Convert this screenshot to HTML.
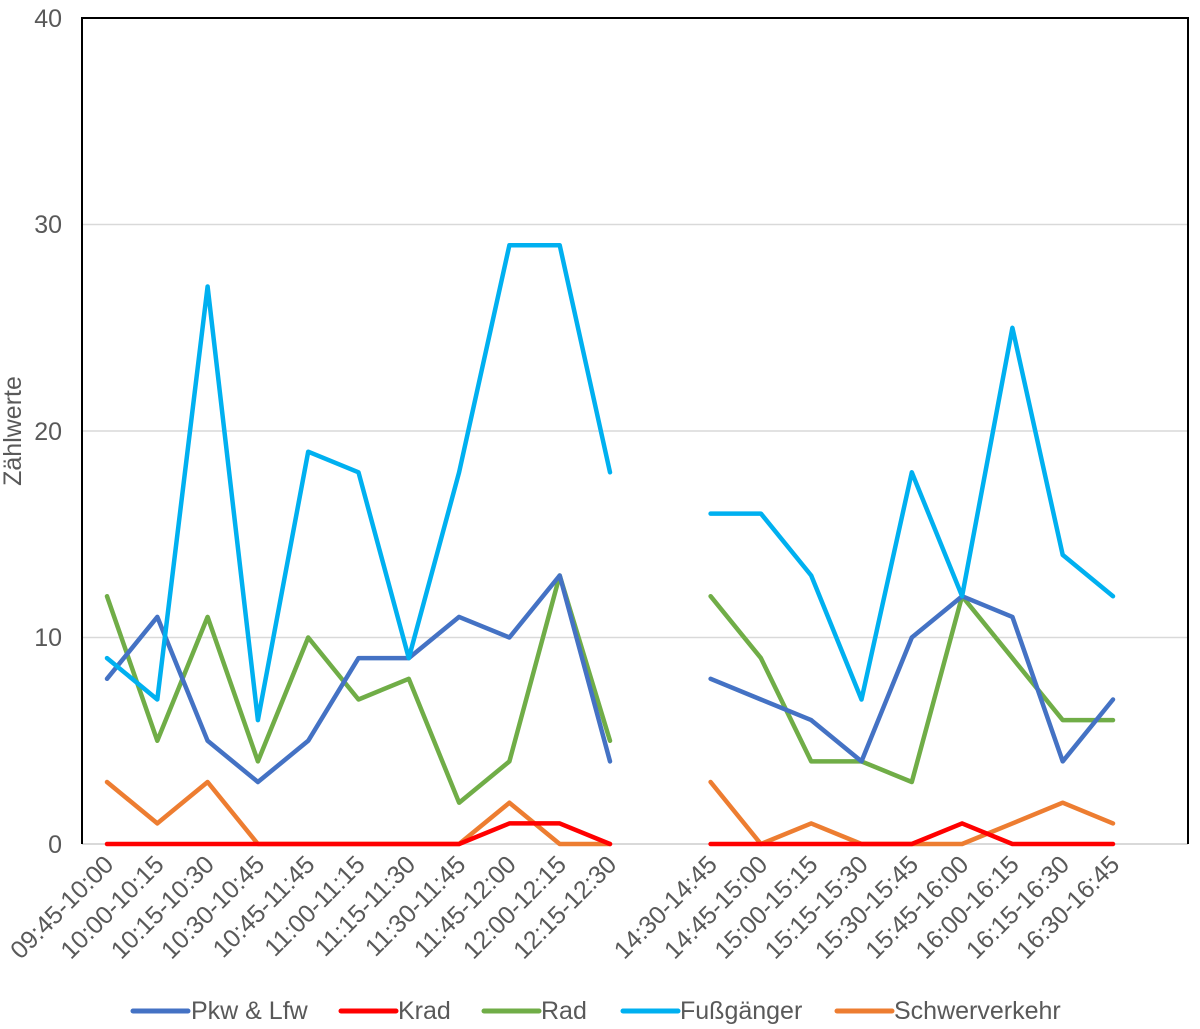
<!DOCTYPE html>
<html><head><meta charset="utf-8"><style>
html,body{margin:0;padding:0;background:#fff;}
svg{display:block;font-family:"Liberation Sans",sans-serif;}
</style></head><body>
<svg id="s" width="1200" height="1029" xmlns="http://www.w3.org/2000/svg">
<rect width="1200" height="1029" fill="#fff"/>
<g stroke="#d9d9d9" stroke-width="1.5">
<line x1="82" x2="1188" y1="637.5" y2="637.5"/>
<line x1="82" x2="1188" y1="431" y2="431"/>
<line x1="82" x2="1188" y1="224.5" y2="224.5"/>
</g>
<line x1="82" x2="1188" y1="844" y2="844" stroke="#d9d9d9" stroke-width="2"/>
<polyline points="82,844 82,18 1188,18 1188,844" fill="none" stroke="#000" stroke-width="2"/>
<g fill="#595959" font-size="25" text-anchor="end">
<text x="62" y="853">0</text>
<text x="62" y="646">10</text>
<text x="62" y="440">20</text>
<text x="62" y="233">30</text>
<text x="62" y="27">40</text>
</g>
<text transform="translate(21,431) rotate(-90)" text-anchor="middle" fill="#595959" font-size="25">Zählwerte</text>
<g id="lines" fill="none" stroke-width="4.5" stroke-linejoin="round" stroke-linecap="round"></g>
<g id="labels" fill="#595959" font-size="25" text-anchor="end"></g>
<g font-size="25" fill="#595959">
<line x1="133" x2="188" y1="1011" y2="1011" stroke="#4472c4" stroke-width="5" stroke-linecap="round"/><text x="191" y="1019">Pkw &amp; Lfw</text>
<line x1="341" x2="396" y1="1011" y2="1011" stroke="#ff0000" stroke-width="5" stroke-linecap="round"/><text x="398" y="1019">Krad</text>
<line x1="484" x2="539" y1="1011" y2="1011" stroke="#70ad47" stroke-width="5" stroke-linecap="round"/><text x="541" y="1019">Rad</text>
<line x1="623" x2="678" y1="1011" y2="1011" stroke="#00b0f0" stroke-width="5" stroke-linecap="round"/><text x="680" y="1019">Fußgänger</text>
<line x1="837" x2="892" y1="1011" y2="1011" stroke="#ed7d31" stroke-width="5" stroke-linecap="round"/><text x="894" y="1019">Schwerverkehr</text>
</g>
</svg>
<script>
var NS="http://www.w3.org/2000/svg";
function X(k){return 107+50.3*k;}
function Y(v){return 844-20.65*v;}
var series=[
["#ed7d31",[3,1,3,0,0,0,0,0,2,0,0],[3,0,1,0,0,0,1,2,1]],
["#ff0000",[0,0,0,0,0,0,0,0,1,1,0],[0,0,0,0,0,1,0,0,0]],
["#70ad47",[12,5,11,4,10,7,8,2,4,13,5],[12,9,4,4,3,12,9,6,6]],
["#4472c4",[8,11,5,3,5,9,9,11,10,13,4],[8,7,6,4,10,12,11,4,7]],
["#00b0f0",[9,7,27,6,19,18,9,18,29,29,18],[16,16,13,7,18,12,25,14,12]]
];
var g=document.getElementById("lines");
series.forEach(function(s){
 [[s[1],0],[s[2],12]].forEach(function(p){
  var pts=p[0].map(function(v,i){return X(i+p[1]).toFixed(1)+","+Y(v).toFixed(1);}).join(" ");
  var pl=document.createElementNS(NS,"polyline");
  pl.setAttribute("points",pts);pl.setAttribute("stroke",s[0]);g.appendChild(pl);
 });
});
var labs=["09:45-10:00","10:00-10:15","10:15-10:30","10:30-10:45","10:45-11:45","11:00-11:15","11:15-11:30","11:30-11:45","11:45-12:00","12:00-12:15","12:15-12:30","",
"14:30-14:45","14:45-15:00","15:00-15:15","15:15-15:30","15:30-15:45","15:45-16:00","16:00-16:15","16:15-16:30","16:30-16:45"];
var lg=document.getElementById("labels");
labs.forEach(function(t,k){
 if(!t)return;
 var x=X(k)+8,y=866;
 var e=document.createElementNS(NS,"text");
 e.setAttribute("transform","translate("+x+","+y+") rotate(-45)");
 e.textContent=t;lg.appendChild(e);
});
</script>
</body></html>
